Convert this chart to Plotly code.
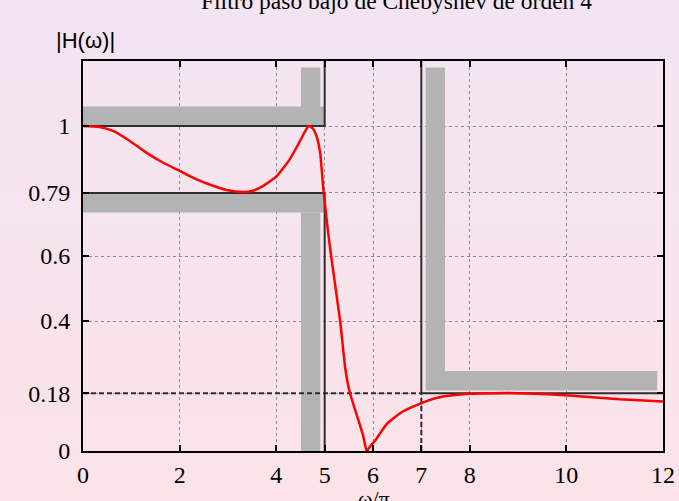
import plotly.graph_objects as go

# ---- data ----
freq = [0.0, 0.34, 0.62, 0.97, 1.31, 1.66, 2.0, 2.35, 2.69, 2.97, 3.3, 3.5, 3.73, 4.01, 4.28,
        4.49, 4.60, 4.67, 4.75, 4.84, 4.91, 4.97, 5.05, 5.12, 5.32, 5.43, 5.52, 5.70, 5.80,
        5.87, 5.95, 6.05, 6.15, 6.29, 6.45, 6.60, 6.80, 6.98, 7.20, 7.40, 7.70, 8.0, 8.5,
        9.0, 9.7, 10.4, 11.1, 12.0]
mag = [1.000, 0.997, 0.985, 0.954, 0.918, 0.887, 0.862, 0.836, 0.816, 0.803, 0.797, 0.800,
       0.816, 0.846, 0.898, 0.954, 0.985, 1.000, 0.993, 0.965, 0.913, 0.810, 0.700, 0.615,
       0.400, 0.250, 0.180, 0.094, 0.045, 0.000, 0.016, 0.033, 0.055, 0.084, 0.104, 0.120,
       0.135, 0.146, 0.158, 0.166, 0.172, 0.176, 0.178, 0.178, 0.174, 0.167, 0.159, 0.152]

wp = 5.0          # passband edge (w/pi)
ws = 7.0          # stopband edge (w/pi)
pass_min = 0.794  # passband lower limit
pass_max = 1.0    # passband upper limit
stop_max = 0.178  # stopband limit

x_ticks = [0, 2, 4, 5, 6, 7, 8, 10, 12]
y_ticks = [0, 0.178, 0.4, 0.6, 0.794, 1]
y_tick_text = ["0", "0.18", "0.4", "0.6", "0.79", "1"]

title_text = "Filtro paso bajo de Chebyshev de orden 4"
xlabel = "ω/π"
ylabel = "|H(ω)|"

W, H = 679, 501
ML, MR, MT, MB = 83, 16, 61, 50
XMAX, YMAX = 12, 1.2

GRAY = "#b3b3b3"
DARK = "#2e2e2e"

fig = go.Figure()


def band(x0, x1, y0, y1):
    fig.add_trace(go.Scatter(x=[x0, x1, x1, x0, x0], y=[y0, y0, y1, y1, y0],
                             mode="lines", fill="toself", fillcolor=GRAY,
                             line=dict(width=0, color=GRAY), hoverinfo="skip",
                             showlegend=False))


def seg(xs, ys, dash="solid"):
    fig.add_trace(go.Scatter(x=xs, y=ys, mode="lines",
                             line=dict(color=DARK, width=2, dash=dash),
                             hoverinfo="skip", showlegend=False))


# tolerance bands (gray)
bw = 0.40   # vertical band width (w/pi units)
bh = 0.06   # horizontal band height
top = 1.18
band(0, wp, pass_max, pass_max + bh)
band(wp - 0.49, wp - 0.09, pass_max, top)
band(0, wp, pass_min - bh, pass_min)
band(wp - 0.49, wp - 0.09, 0, pass_min - bh)
band(ws + 0.09, ws + 0.09 + bw, stop_max + 0.008, top)
band(ws + 0.09 + bw, 11.88, stop_max + 0.008, stop_max + 0.008 + bh)

# spec lines
seg([0, wp, wp], [pass_max, pass_max, YMAX])
seg([0, wp, wp], [pass_min, pass_min, 0])
seg([ws, ws, XMAX], [YMAX, stop_max, stop_max])
seg([0, ws], [stop_max, stop_max], dash="5px,3px")
seg([ws, ws], [0, stop_max], dash="5px,3px")

# response
fig.add_trace(go.Scatter(x=freq, y=mag, mode="lines",
                         line=dict(color="#ff0000", width=2.5, shape="spline", smoothing=0.5),
                         showlegend=False))

# background gradient
pw = W - ML - MR
ph = H - MT - MB
top_c = (242, 228, 242)
bot_c = (251, 227, 232)
N = 60
shapes = []
for i in range(N):
    t = i / (N - 1)
    c = tuple(round(top_c[k] + (bot_c[k] - top_c[k]) * t) for k in range(3))
    p0 = H * i / N
    p1 = H * (i + 1) / N + 1
    shapes.append(dict(type="rect", xref="paper", yref="paper", layer="below",
                       x0=-ML / pw - 0.01, x1=(W - ML) / pw + 0.01,
                       y0=(H - MB - p1) / ph, y1=(H - MB - p0) / ph,
                       line=dict(width=0), fillcolor="rgb(%d,%d,%d)" % c))


def px_to_paper_y(p):
    return (H - MB - p) / ph


def px_to_paper_x(p):
    return (p - ML) / pw


annotations = [
    dict(text=title_text, x=px_to_paper_x(396), y=px_to_paper_y(1), xref="paper", yref="paper",
         xanchor="center", yanchor="middle", showarrow=False,
         font=dict(family="Liberation Serif", size=23.5, color="black")),
    dict(text=ylabel, x=px_to_paper_x(85), y=px_to_paper_y(41), xref="paper", yref="paper",
         xanchor="center", yanchor="middle", showarrow=False,
         font=dict(family="Liberation Sans", size=22, color="black")),
    dict(text=xlabel, x=px_to_paper_x(374), y=px_to_paper_y(484), xref="paper", yref="paper",
         xanchor="center", yanchor="top", showarrow=False,
         font=dict(family="Liberation Serif", size=22, color="black")),
]

axis_common = dict(showgrid=True, gridcolor="#8c8c8c", griddash="dot", gridwidth=1,
                   ticks="inside", ticklen=6, tickwidth=1.5, tickcolor="black",
                   showline=True, linecolor="black", linewidth=2, mirror="ticks",
                   zeroline=False, automargin=False,
                   tickfont=dict(family="Liberation Serif", size=24, color="black"))

fig.update_layout(
    width=W, height=H,
    margin=dict(l=ML, r=MR, t=MT, b=MB, autoexpand=False),
    paper_bgcolor="rgb(246,228,238)",
    plot_bgcolor="rgba(0,0,0,0)",
    shapes=shapes,
    annotations=annotations,
    xaxis=dict(range=[0, XMAX], tickvals=x_ticks, ticktext=[str(v) for v in x_ticks],
               ticklabelstandoff=1, ticklabeloverflow="allow", **axis_common),
    yaxis=dict(range=[0, YMAX], tickvals=y_ticks, ticktext=y_tick_text,
               ticklabelstandoff=6, **axis_common),
)

fig.write_html("out.html", config={"displayModeBar": False},
               post_script="document.body.style.margin='0px';document.body.style.overflow='hidden';")
